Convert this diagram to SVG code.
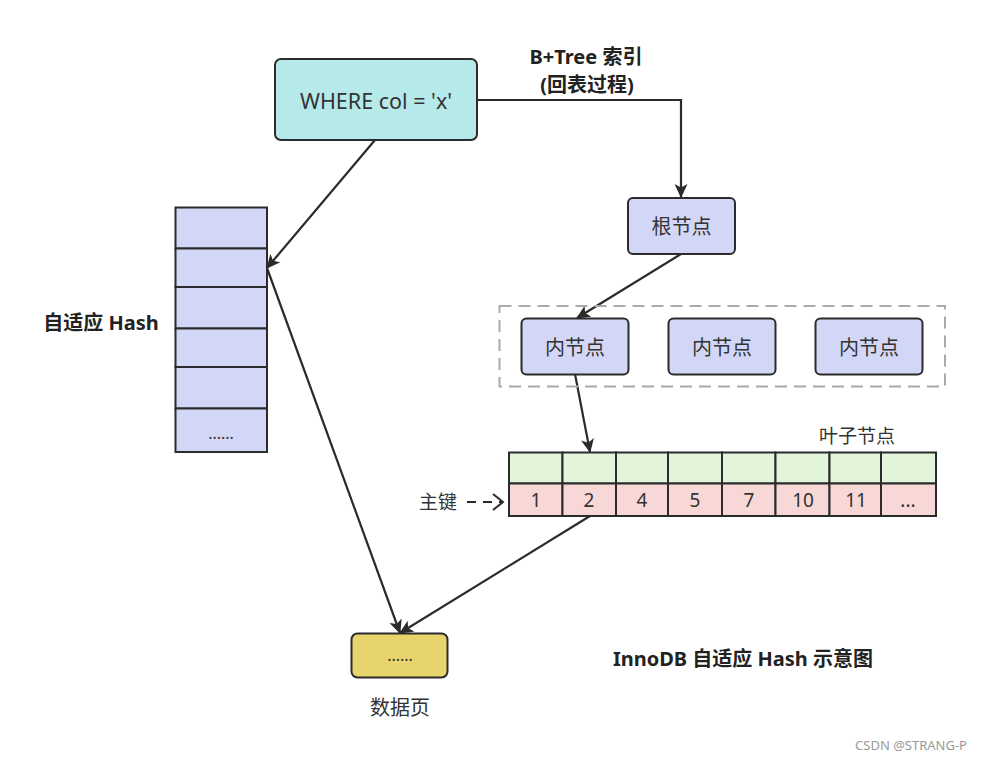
<svg xmlns="http://www.w3.org/2000/svg" width="982" height="761" viewBox="0 0 982 761">
<style>
text{font-family:"Noto Sans","Noto Sans CJK SC",sans-serif;fill:#333;}
.t{font-size:20px;text-anchor:middle;dominant-baseline:central;}
.n{font-size:19px;text-anchor:middle;dominant-baseline:central;}
.b{font-size:20px;font-weight:bold;text-anchor:middle;dominant-baseline:central;fill:#222;}
.box{stroke:#2b2b2b;stroke-width:2;}
.blue{fill:#d3d7f7;}
.cyan{fill:#b6eaea;}
.green{fill:#e2f5da;}
.pink{fill:#f8d8d7;}
.yellow{fill:#e8d46c;}
.ln{fill:none;stroke:#2b2b2b;stroke-width:2.2;}
</style>
<defs>
<marker id="ah" markerWidth="14" markerHeight="14" refX="13" refY="7" orient="auto" markerUnits="userSpaceOnUse" viewBox="0 0 14 14">
<path d="M0,0.5 L14,7 L0,13.5 L3.5,7 z" fill="#2b2b2b"/>
</marker>
<marker id="oh" markerWidth="14" markerHeight="18" refX="12" refY="9" orient="auto" markerUnits="userSpaceOnUse" viewBox="0 0 14 18">
<path d="M2,1 L12,9 L2,17" fill="none" stroke="#2b2b2b" stroke-width="2"/>
</marker>
</defs>
<rect width="982" height="761" fill="#fff"/>

<g id="connectors">
<polyline class="ln" points="477,100 681,100 681,197" marker-end="url(#ah)"/>
<line class="ln" x1="681" y1="254" x2="577" y2="318" marker-end="url(#ah)"/>
<line class="ln" x1="575" y1="374" x2="590" y2="452" marker-end="url(#ah)"/>
<line class="ln" x1="590" y1="516" x2="400" y2="633" marker-end="url(#ah)"/>
<line class="ln" x1="375" y1="140" x2="267" y2="268" marker-end="url(#ah)"/>
<line class="ln" x1="267" y1="268" x2="400" y2="633" marker-end="url(#ah)"/>
<line class="ln" x1="467" y1="502" x2="503" y2="502" stroke-dasharray="9,7" marker-end="url(#oh)"/>
</g>

<g id="where">
<rect class="box cyan" x="275" y="59" width="202" height="81" rx="6"/>
<text class="t" x="376" y="100" style="font-size:21.5px">WHERE col = 'x'</text>
</g>

<g id="btree-label">
<text class="b" x="586" y="56">B+Tree 索引</text>
<text class="b" x="587" y="84">(回表过程)</text>
</g>

<g id="root">
<rect class="box blue" x="628" y="198" width="107" height="56" rx="5"/>
<text class="t" x="681.5" y="226">根节点</text>
</g>

<g id="inner-group">
<rect x="499.5" y="306" width="445.5" height="80.5" fill="none" stroke="#aaa" stroke-width="2" stroke-dasharray="12,7"/>
</g>
<g id="inner1">
<rect class="box blue" x="521.5" y="318.5" width="107" height="56" rx="5"/>
<text class="t" x="575" y="347">内节点</text>
</g>
<g id="inner2">
<rect class="box blue" x="668.5" y="318.5" width="107" height="56" rx="5"/>
<text class="t" x="722" y="347">内节点</text>
</g>
<g id="inner3">
<rect class="box blue" x="815.5" y="318.5" width="107" height="56" rx="5"/>
<text class="t" x="869" y="347">内节点</text>
</g>

<g id="hash">
<rect class="box blue" x="175.5" y="207.5" width="91.5" height="41"/>
<rect class="box blue" x="175.5" y="248.5" width="91.5" height="38.5"/>
<rect class="box blue" x="175.5" y="287" width="91.5" height="41.5"/>
<rect class="box blue" x="175.5" y="328.5" width="91.5" height="38.5"/>
<rect class="box blue" x="175.5" y="367" width="91.5" height="41.5"/>
<rect class="box blue" x="175.5" y="408.5" width="91.5" height="43.5"/>
<text class="t" x="221" y="433" style="font-size:16px">......</text>
</g>
<g id="hash-label">
<text class="b" x="101" y="322">自适应 Hash</text>
</g>

<g id="leaf">
<text class="n" x="857" y="436">叶子节点</text>
<rect class="box green" x="509" y="452.5" width="53.5" height="31"/>
<rect class="box green" x="562.5" y="452.5" width="53.5" height="31"/>
<rect class="box green" x="616" y="452.5" width="52" height="31"/>
<rect class="box green" x="668" y="452.5" width="54" height="31"/>
<rect class="box green" x="722" y="452.5" width="53.5" height="31"/>
<rect class="box green" x="775.5" y="452.5" width="54" height="31"/>
<rect class="box green" x="829.5" y="452.5" width="51.5" height="31"/>
<rect class="box green" x="881" y="452.5" width="55" height="31"/>
<rect class="box pink" x="509" y="483.5" width="53.5" height="32.5"/>
<rect class="box pink" x="562.5" y="483.5" width="53.5" height="32.5"/>
<rect class="box pink" x="616" y="483.5" width="52" height="32.5"/>
<rect class="box pink" x="668" y="483.5" width="54" height="32.5"/>
<rect class="box pink" x="722" y="483.5" width="53.5" height="32.5"/>
<rect class="box pink" x="775.5" y="483.5" width="54" height="32.5"/>
<rect class="box pink" x="829.5" y="483.5" width="51.5" height="32.5"/>
<rect class="box pink" x="881" y="483.5" width="55" height="32.5"/>
<text class="n" x="536" y="500">1</text>
<text class="n" x="589" y="500">2</text>
<text class="n" x="642" y="500">4</text>
<text class="n" x="695" y="500">5</text>
<text class="n" x="749" y="500">7</text>
<text class="n" x="803" y="500">10</text>
<text class="n" x="856" y="500">11</text>
<text class="n" x="908" y="500">...</text>
</g>
<g id="pk-label">
<text class="n" x="438" y="502">主键</text>
</g>

<g id="datapage">
<rect class="box yellow" x="351.5" y="633.5" width="96" height="44" rx="6"/>
<text class="t" x="400" y="655" style="font-size:16px">......</text>
<text class="t" x="400" y="707">数据页</text>
</g>

<g id="title">
<text class="b" x="743" y="658">InnoDB 自适应 Hash 示意图</text>
</g>
<text x="967" y="750" style="font-size:13px;fill:#999;text-anchor:end">CSDN @STRANG-P</text>
</svg>
